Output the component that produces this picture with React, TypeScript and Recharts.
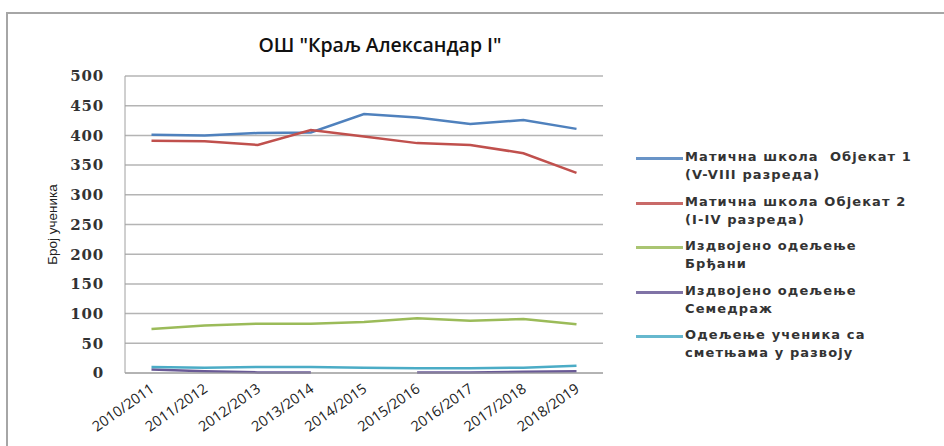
import React from 'react';
import {
  LineChart,
  Line,
  XAxis,
  YAxis,
  CartesianGrid,
  Legend,
} from 'recharts';

const years = [
  '2010/2011', '2011/2012', '2012/2013', '2013/2014', '2014/2015',
  '2015/2016', '2016/2017', '2017/2018', '2018/2019',
];
const objekat1 = [401, 400, 404, 405, 436, 430, 419, 426, 411];
const objekat2 = [391, 390, 384, 409, 398, 387, 384, 370, 337];
const brdjani = [74, 80, 83, 83, 86, 92, 88, 91, 82];
const semedraz = [6, 3, 1, 1, null, 1, 1, 2, 3];
const smetnje = [10, 9, 10, 10, 9, 8, 8, 9, 12];
const yTicks = [0, 50, 100, 150, 200, 250, 300, 350, 400, 450, 500];

const seriesKeys = ['objekat1', 'objekat2', 'brdjani', 'semedraz', 'smetnje'];
const seriesNames: Record<string, string[]> = {
  objekat1: ['Матична школа  Објекат 1', '(V-VIII разреда)'],
  objekat2: ['Матична школа Објекат 2', '(I-IV разреда)'],
  brdjani: ['Издвојено одељење', 'Брђани'],
  semedraz: ['Издвојено одељење', 'Семедраж'],
  smetnje: ['Одељење ученика са', 'сметњама у развоју'],
};

const data = years.map((y, i) => ({
  year: y,
  objekat1: objekat1[i],
  objekat2: objekat2[i],
  brdjani: brdjani[i],
  semedraz: semedraz[i],
  smetnje: smetnje[i],
}));

const XTick = (props: any) => {
  const { x, y, payload } = props;
  return (
    <text
      transform={`translate(${x + 1},${y + 6}) rotate(-35)`}
      textAnchor="end"
      dy={5}
      fontSize={14.5}
      fill="#222"
      fontFamily="'Open Sans', sans-serif"
    >
      {payload.value}
    </text>
  );
};

const renderLegend = (props: any) => {
  const { payload } = props;
  // keep series order (the library sorts the payload by name)
  const items = seriesKeys
    .map((k) => payload.find((p: any) => p.dataKey === k))
    .filter(Boolean);
  return (
    <div>
      {items.map((p: any) => {
        const lines = seriesNames[p.dataKey] || [p.value];
        return (
          <div key={p.dataKey} style={{ display: 'flex', height: 44.5 }}>
            <div
              style={{
                width: 47,
                height: 3,
                marginTop: 8,
                marginRight: 2,
                background: p.color,
                opacity: 0.85,
              }}
            />
            <div
              style={{
                fontFamily: "'DejaVu Sans', sans-serif",
                fontWeight: 'bold',
                fontSize: 13,
                letterSpacing: 1.1,
                lineHeight: '18px',
                marginTop: -1,
                color: '#333',
              }}
            >
              {lines.map((l) => (
                <div key={l} style={{ whiteSpace: 'pre' }}>{l}</div>
              ))}
            </div>
          </div>
        );
      })}
    </div>
  );
};

export default function App() {
  return (
    <div
      style={{
        position: 'fixed',
        left: 0,
        top: 0,
        width: 944,
        height: 446,
        background: '#fff',
        overflow: 'hidden',
      }}
    >
      <div
        style={{
          position: 'absolute',
          left: 6,
          top: 12,
          width: 1000,
          height: 500,
          border: '2px solid #a6a6a6',
        }}
      />
      <div
        style={{
          position: 'absolute',
          left: 0,
          width: 760,
          top: 31,
          textAlign: 'center',
          fontFamily: "'Open Sans', sans-serif",
          fontWeight: 600,
          fontSize: 19.5,
          color: '#111',
        }}
      >
        ОШ "Краљ Александар I"
      </div>
      <div style={{ position: 'absolute', left: 0, top: 0 }}>
        <LineChart
          width={944}
          height={446}
          data={data}
          margin={{ top: 76, right: 41, bottom: 0, left: 0 }}
        >
          <CartesianGrid vertical={false} stroke="#b4b4b4" strokeWidth={1.5} />
          <XAxis
            dataKey="year"
            height={73}
            stroke="#a0a0a0"
            tickLine={false}
            interval={0}
            padding={{ left: 26.5, right: 26.5 }}
            tick={<XTick />}
          />
          <YAxis
            width={125}
            domain={[0, 500]}
            ticks={yTicks}
            stroke="#a0a0a0"
            tickLine={false}
            tickMargin={15}
            tick={{
              fill: '#333',
              fontSize: 15,
              fontWeight: 'bold',
              letterSpacing: 0.8,
              fontFamily: "'DejaVu Serif', serif",
            }}
            label={{
              value: 'Број ученика',
              angle: -90,
              position: 'insideLeft',
              offset: 52,
              style: {
                textAnchor: 'middle',
                fontSize: 13.5,
                fill: '#222',
                fontFamily: "'Liberation Sans Narrow', 'Liberation Sans', sans-serif",
              },
            }}
          />
          <Legend
            layout="vertical"
            align="right"
            verticalAlign="middle"
            content={renderLegend}
            wrapperStyle={{ position: 'absolute', left: 636, top: 149, width: 300 }}
          />
          <Line type="linear" dataKey="objekat1" stroke="#4f81bd" strokeWidth={2.5} dot={false} isAnimationActive={false} />
          <Line type="linear" dataKey="objekat2" stroke="#c0504d" strokeWidth={2.5} dot={false} isAnimationActive={false} />
          <Line type="linear" dataKey="brdjani" stroke="#9bbb59" strokeWidth={2.5} dot={false} isAnimationActive={false} />
          <Line type="linear" dataKey="semedraz" stroke="#6a5a96" strokeWidth={2.5} dot={false} isAnimationActive={false} />
          <Line type="linear" dataKey="smetnje" stroke="#4bacc6" strokeWidth={2.5} dot={false} isAnimationActive={false} />
        </LineChart>
      </div>
    </div>
  );
}
